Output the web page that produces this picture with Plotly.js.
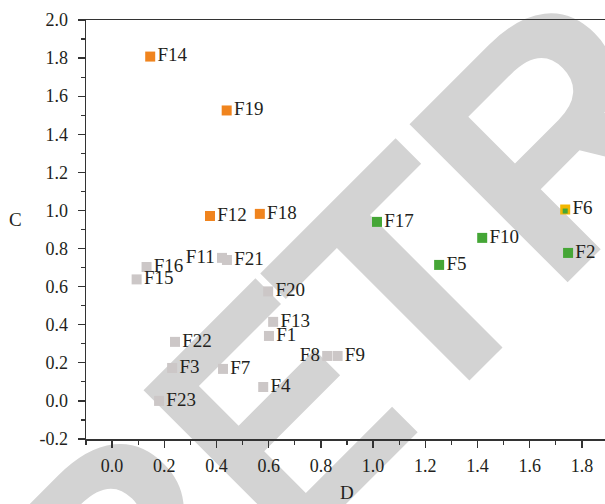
<!DOCTYPE html>
<html>
<head>
<meta charset="utf-8">
<script src="https://cdn.plot.ly/plotly-3.0.1.min.js"></script>
<style>
  html, body { margin: 0; padding: 0; width: 605px; height: 504px; overflow: hidden; background: #fff; }
  #wm { position: absolute; left: 0; top: 0; }
  #chart { position: absolute; left: 0; top: 0; width: 608px; height: 504px; }
</style>
</head>
<body>
<svg id="wm" width="605" height="504" xmlns="http://www.w3.org/2000/svg">
  <g transform="rotate(-45)" fill="#d3d3d3" font-family="Liberation Sans, Arial, sans-serif" font-weight="bold" font-size="325">
    <text x="-429" y="601">R</text>
    <text transform="translate(-194,601) scale(0.9,1)">E</text>
    <text x="-13" y="601">T</text>
    <text x="180" y="601">RACTED</text>
  </g>
</svg>
<div id="chart"></div>
<script>
// ---- data ----
const names = ["F1","F2","F3","F4","F5","F6","F7","F8","F9","F10","F11","F12",
               "F13","F14","F15","F16","F17","F18","F19","F20","F21","F22","F23"];
const dValues = [0.601, 1.747, 0.230, 0.579, 1.253, 1.736, 0.425, 0.824, 0.864, 1.418, 0.421, 0.375,
                 0.617, 0.146, 0.094, 0.132, 1.015, 0.566, 0.439, 0.598, 0.440, 0.241, 0.180];
const cValues = [0.341, 0.777, 0.173, 0.073, 0.714, 1.005, 0.168, 0.236, 0.236, 0.856, 0.751, 0.971,
                 0.415, 1.808, 0.638, 0.703, 0.940, 0.982, 1.525, 0.575, 0.740, 0.310, 0.000];
const groups  = ["grey","green","grey","grey","green","yellow","grey","grey","grey","green","grey","orange",
                 "grey","orange","grey","grey","green","orange","orange","grey","grey","grey","grey"];
const labelSide = ["right","right","right","right","right","right","right","left","right","right","left","right",
                   "right","right","right","right","right","right","right","right","right","right","right"];

const xTickVals = [0.0, 0.2, 0.4, 0.6, 0.8, 1.0, 1.2, 1.4, 1.6, 1.8];
const xTickText = ["0.0","0.2","0.4","0.6","0.8","1.0","1.2","1.4","1.6","1.8"];
const yTickVals = [-0.2, 0.0, 0.2, 0.4, 0.6, 0.8, 1.0, 1.2, 1.4, 1.6, 1.8, 2.0];
const yTickText = ["-0.2","0.0","0.2","0.4","0.6","0.8","1.0","1.2","1.4","1.6","1.8","2.0"];

const colors = { grey: "#ccc7c7", orange: "#f0841e", green: "#45a636", yellow: "#f2b600" };
const order = ["grey", "orange", "green", "yellow"];

const serif = "Liberation Serif, Times New Roman, serif";
const textFont = { family: serif, size: 19, color: "#231f20" };

const traces = [];
order.forEach(g => {
  const idx = names.map((n, i) => i).filter(i => groups[i] === g);
  traces.push({
    type: "scatter", mode: "markers+text",
    x: idx.map(i => dValues[i]), y: idx.map(i => cValues[i]),
    text: idx.map(i => names[i]),
    textposition: idx.map(i => "middle " + labelSide[i]),
    textfont: textFont,
    marker: { symbol: "square", size: 10, color: colors[g], line: { width: 0 } },
    cliponaxis: false, hoverinfo: "skip", showlegend: false
  });
});
// green inner part of the F6 marker (overlapping green point)
const yIdx = names.map((n, i) => i).filter(i => groups[i] === "yellow");
traces.push({
  type: "scatter", mode: "markers",
  x: yIdx.map(i => dValues[i]), y: yIdx.map(i => cValues[i] - 0.008),
  marker: { symbol: "square", size: 5, color: colors.green, line: { width: 0 } },
  cliponaxis: false, hoverinfo: "skip", showlegend: false
});

const axisFont = { family: serif, size: 18, color: "#231f20" };

const layout = {
  width: 608, height: 504,
  margin: { l: 86, r: 0, t: 20, b: 65, pad: 0 },
  paper_bgcolor: "rgba(0,0,0,0)", plot_bgcolor: "rgba(0,0,0,0)",
  showlegend: false,
  font: { family: serif, size: 18, color: "#231f20" },
  xaxis: {
    range: [-0.1, 1.9], tickmode: "array", tickvals: xTickVals, ticktext: xTickText,
    ticks: "outside", ticklen: 7, tickwidth: 1.3, tickcolor: "#333",
    minor: { dtick: 0.1, tick0: 0, ticks: "outside", ticklen: 4, tickwidth: 1.2, tickcolor: "#333" },
    showline: true, linecolor: "#333", linewidth: 1.5, mirror: true,
    showgrid: false, zeroline: false, tickfont: axisFont, ticklabelstandoff: 3
  },
  yaxis: {
    range: [-0.2, 2.0], tickmode: "array", tickvals: yTickVals, ticktext: yTickText,
    ticks: "outside", ticklen: 7, tickwidth: 1.3, tickcolor: "#333",
    minor: { dtick: 0.1, tick0: 0, ticks: "outside", ticklen: 4, tickwidth: 1.2, tickcolor: "#333" },
    showline: true, linecolor: "#333", linewidth: 1.5, mirror: false,
    showgrid: false, zeroline: false, tickfont: axisFont, ticklabelstandoff: 6
  },
  annotations: [
    { text: "C", xref: "paper", yref: "paper", x: -0.136, y: 0.523, xanchor: "center", yanchor: "middle",
      showarrow: false, font: { family: serif, size: 19, color: "#231f20" } },
    { text: "D", xref: "paper", yref: "paper", x: 0.5, y: -0.1265, xanchor: "center", yanchor: "middle",
      showarrow: false, font: { family: serif, size: 19, color: "#231f20" } }
  ]
};

Plotly.newPlot("chart", traces, layout, { staticPlot: true, displayModeBar: false });
</script>
</body>
</html>
